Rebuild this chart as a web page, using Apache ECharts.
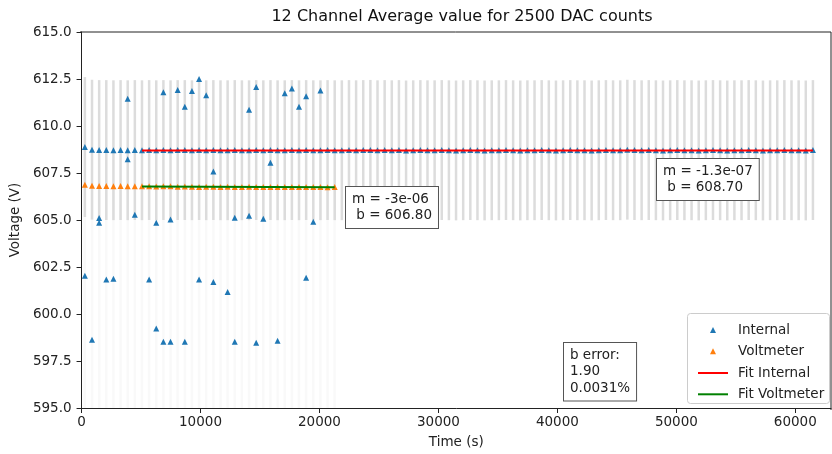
<!DOCTYPE html>
<html>
<head>
<meta charset="utf-8">
<script src="https://cdn.jsdelivr.net/npm/echarts@6/dist/echarts.min.js"></script>
<style>
  html, body { margin: 0; padding: 0; background: #fff; }
  #chart { width: 832px; height: 454px; }
</style>
</head>
<body>
<div id="chart"></div>
<script>
// sample times (s) of the 12 channel averages
const times = [
  280, 880, 1480, 2080, 2680, 3280, 3880, 4480, 5080, 5680,
  6280, 6880, 7480, 8080, 8680, 9280, 9880, 10480, 11080, 11680,
  12280, 12880, 13480, 14080, 14680, 15280, 15880, 16480, 17080, 17680,
  18280, 18880, 19480, 20080, 20680, 21280, 21880, 22480, 23080, 23680,
  24280, 24880, 25480, 26080, 26680, 27280, 27880, 28480, 29080, 29680,
  30280, 30880, 31480, 32080, 32680, 33280, 33880, 34480, 35080, 35680,
  36280, 36880, 37480, 38080, 38680, 39280, 39880, 40480, 41080, 41680,
  42280, 42880, 43480, 44080, 44680, 45280, 45880, 46480, 47080, 47680,
  48280, 48880, 49480, 50080, 50680, 51280, 51880, 52480, 53080, 53680,
  54280, 54880, 55480, 56080, 56680, 57280, 57880, 58480, 59080, 59680,
  60280, 60880, 61480
];

const internalVolts = [
  608.88, 608.74, 608.72, 608.72, 608.71, 608.72, 608.71, 608.72, 608.71, 608.72,
  608.71, 608.72, 608.71, 608.72, 608.72, 608.71, 608.72, 608.71, 608.72, 608.71,
  608.71, 608.72, 608.71, 608.71, 608.72, 608.71, 608.72, 608.71, 608.71, 608.72,
  608.71, 608.72, 608.71, 608.71, 608.72, 608.71, 608.71, 608.72, 608.71, 608.72,
  608.73, 608.71, 608.72, 608.71, 608.72, 608.70, 608.71, 608.72, 608.71, 608.71,
  608.72, 608.71, 608.70, 608.71, 608.72, 608.71, 608.70, 608.71, 608.71, 608.72,
  608.71, 608.70, 608.71, 608.71, 608.72, 608.71, 608.70, 608.71, 608.72, 608.71,
  608.71, 608.70, 608.71, 608.72, 608.71, 608.71, 608.74, 608.72, 608.71, 608.72,
  608.71, 608.70, 608.71, 608.72, 608.71, 608.71, 608.70, 608.71, 608.72, 608.71,
  608.70, 608.71, 608.71, 608.72, 608.71, 608.70, 608.71, 608.71, 608.72, 608.71,
  608.71, 608.70, 608.72
];
const internalErr = 3.72;

// channel readings far from the average (first ~20000 s)
const outlierTimes = [
  3880, 6880, 8080, 8680, 9280, 9880, 10480, 14080, 14680, 17080, 17680, 18280, 18880, 20080,
  3880, 11080, 15880,
  1480, 1480, 4480, 6280, 7480, 12880, 14080, 15280, 19480,
  280, 2080, 2680, 5680, 9880, 11080, 12280, 18880,
  880, 6280, 6880, 7480, 8680, 12880, 14680, 16480
];
const outlierVolts = [
  611.45, 611.79, 611.91, 611.02, 611.86, 612.50, 611.63, 610.87, 612.07, 611.74, 612.00, 611.03, 611.58, 611.89,
  608.23, 607.58, 608.05,
  605.11, 604.86, 605.28, 604.86, 605.02, 605.12, 605.23, 605.07, 604.91,
  602.04, 601.83, 601.88, 601.83, 601.83, 601.70, 601.17, 601.93,
  598.63, 599.23, 598.53, 598.53, 598.53, 598.53, 598.47, 598.58
];

const voltmeterTimes = times.slice(0, 36);
const voltmeterVolts = [
  606.87, 606.82, 606.81, 606.81, 606.80, 606.81, 606.80, 606.80, 606.79, 606.80,
  606.78, 606.79, 606.80, 606.77, 606.78, 606.77, 606.76, 606.77, 606.77, 606.76,
  606.77, 606.76, 606.76, 606.77, 606.76, 606.75, 606.76, 606.76, 606.75, 606.76,
  606.75, 606.75, 606.76, 606.75, 606.74, 606.75
];
const voltmeterErrLow = 594;

const fitInternalTimes = [5080, 61480];
const fitInternalVolts = [608.699, 608.692];
const fitVoltmeterTimes = [5080, 21280];
const fitVoltmeterVolts = [606.785, 606.736];

const xTicks = [0, 10000, 20000, 30000, 40000, 50000, 60000];

const FONT = 'DejaVu Sans';
const BLUE = '#1f77b4';
const ORANGE = '#ff7f0e';
const TXT = '#222';

const zip = (xs, ys) => xs.map((x, i) => [x, ys[i]]);

const internalData = zip(times, internalVolts).concat(zip(outlierTimes, outlierVolts));
const errData = times.map((t, i) => [t, internalVolts[i] - internalErr, internalVolts[i] + internalErr]);
const voltErrData = voltmeterTimes.map((t, i) => [t, voltmeterErrLow, voltmeterVolts[i]]);

function errBar(color, width) {
  return function (params, api) {
    const lo = api.coord([api.value(0), api.value(1)]);
    const hi = api.coord([api.value(0), api.value(2)]);
    return {
      type: 'line',
      shape: { x1: lo[0], y1: lo[1], x2: hi[0], y2: hi[1] },
      style: { stroke: color, lineWidth: width }
    };
  };
}

const chart = echarts.init(document.getElementById('chart'));

const boxText = (text, left, top) => ({
  type: 'text',
  left: left,
  top: top,
  z: 100,
  style: {
    text: text,
    font: '13.5px "' + FONT + '"',
    fill: TXT,
    lineHeight: 16.5,
    backgroundColor: '#fff',
    borderColor: '#555',
    borderWidth: 1,
    padding: [4, 6, 4, 6]
  }
});

const legendText = (padLeft) => ({
  fontFamily: FONT, fontSize: 13.5, color: TXT, lineHeight: 16, padding: [0, 0, 0, padLeft]
});

chart.setOption({
  animation: false,
  textStyle: { fontFamily: FONT },
  title: {
    text: '12 Channel Average value for 2500 DAC counts',
    left: 457,
    top: 4,
    textAlign: 'center',
    textStyle: { fontFamily: FONT, fontSize: 16, fontWeight: 'normal', color: '#111' }
  },
  grid: { left: 80, top: 32, width: 751, height: 378 },
  xAxis: {
    type: 'value',
    min: 0,
    max: 63000,
    interval: 10000,
    name: 'Time (s)',
    nameLocation: 'middle',
    nameGap: 27,
    nameTextStyle: { fontFamily: FONT, fontSize: 13.5, color: TXT },
    axisLine: { show: true, lineStyle: { color: TXT, width: 1 } },
    axisTick: { show: true, length: 5, lineStyle: { color: TXT }, customValues: xTicks },
    axisLabel: {
      fontFamily: FONT, fontSize: 13.5, color: TXT, margin: 7,
      customValues: xTicks,
      formatter: v => String(v)
    },
    splitLine: { show: false }
  },
  yAxis: {
    type: 'value',
    min: 595,
    max: 615,
    interval: 2.5,
    name: 'Voltage (V)',
    nameLocation: 'middle',
    nameGap: 57,
    nameTextStyle: { fontFamily: FONT, fontSize: 13.5, color: TXT },
    axisLine: { show: true, lineStyle: { color: TXT, width: 1 } },
    axisTick: { show: true, length: 5, lineStyle: { color: TXT } },
    axisLabel: { fontFamily: FONT, fontSize: 13.5, color: TXT, margin: 10, formatter: v => v.toFixed(1) },
    splitLine: { show: false }
  },
  legend: [
    {
      data: ['Internal', 'Voltmeter'],
      icon: 'triangle',
      orient: 'vertical',
      left: 705,
      top: 317,
      z: 100,
      itemWidth: 6,
      itemHeight: 6,
      itemGap: 5.3,
      textStyle: legendText(17)
    },
    {
      data: ['Fit Internal', 'Fit Voltmeter'],
      icon: 'rect',
      orient: 'vertical',
      left: 693,
      top: 360,
      z: 100,
      itemWidth: 30,
      itemHeight: 2,
      itemGap: 5.3,
      textStyle: legendText(5)
    }
  ],
  graphic: [
    {
      type: 'rect',
      left: 687,
      top: 313,
      z: 50,
      shape: { width: 142, height: 90, r: 3 },
      style: { fill: 'rgba(255,255,255,0.85)', stroke: '#ccc', lineWidth: 1 }
    },
    boxText('m = -3e-06\n b = 606.80', 345, 186),
    boxText('m = -1.3e-07\n b = 608.70', 656, 158),
    boxText('b error:\n1.90\n0.0031%', 563, 342),
    {
      type: 'line',
      z: 5,
      shape: { x1: 80, y1: 32, x2: 831, y2: 32 },
      style: { stroke: TXT, lineWidth: 1 }
    },
    {
      type: 'line',
      z: 5,
      shape: { x1: 831, y1: 32, x2: 831, y2: 410 },
      style: { stroke: TXT, lineWidth: 1 }
    }
  ],
  series: [
    {
      name: 'voltErr',
      type: 'custom',
      renderItem: errBar('rgba(215,215,215,0.15)', 2.5),
      data: voltErrData,
      clip: true,
      silent: true,
      z: 1
    },
    {
      name: 'internalErr',
      type: 'custom',
      renderItem: errBar('#dcdcdc', 2.5),
      data: errData,
      clip: true,
      silent: true,
      z: 2
    },
    {
      name: 'Internal',
      type: 'scatter',
      symbol: 'triangle',
      symbolSize: 6,
      itemStyle: { color: BLUE, opacity: 1 },
      data: internalData,
      z: 3
    },
    {
      name: 'Voltmeter',
      type: 'scatter',
      symbol: 'triangle',
      symbolSize: 6,
      itemStyle: { color: ORANGE, opacity: 1 },
      data: zip(voltmeterTimes, voltmeterVolts),
      z: 3
    },
    {
      name: 'Fit Internal',
      type: 'line',
      symbol: 'none',
      lineStyle: { color: '#ff0000', width: 2 },
      itemStyle: { color: '#ff0000' },
      data: zip(fitInternalTimes, fitInternalVolts),
      z: 4
    },
    {
      name: 'Fit Voltmeter',
      type: 'line',
      symbol: 'none',
      lineStyle: { color: '#008000', width: 2 },
      itemStyle: { color: '#008000' },
      data: zip(fitVoltmeterTimes, fitVoltmeterVolts),
      z: 4
    }
  ]
});
</script>
</body>
</html>
